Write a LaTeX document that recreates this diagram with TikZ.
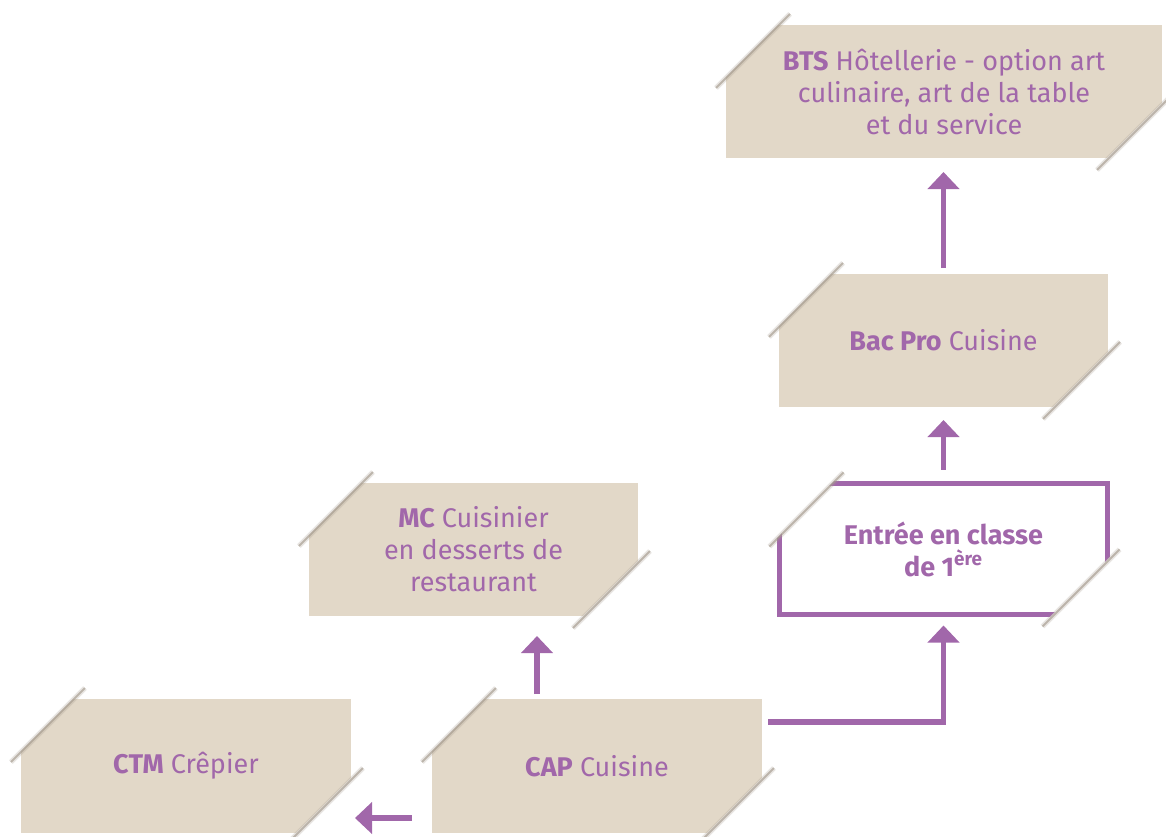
\documentclass[tikz,border=0pt]{standalone}
\usepackage{fontspec}
\setmainfont{Fira Sans}
\usetikzlibrary{arrows.meta,calc}
\definecolor{beige}{RGB}{226,216,200}
\definecolor{violet}{RGB}{161,103,170}
\definecolor{shade}{RGB}{165,155,142}
\begin{document}
\begin{tikzpicture}[x=0.5pt,y=-0.5pt,
  box/.style={fill=beige, text=violet, inner sep=0pt, outer sep=0pt, align=center,
    font=\fontsize{13.5}{16}\selectfont},
  outlinebox/.style={box, fill=white, draw=violet, line width=2.5pt, font=\fontsize{13.5}{16}\selectfont\bfseries},
  arr/.style={draw=violet, line width=2.75pt, -{Triangle[length=8.5pt,width=15.5pt]}},
  shadowsoft/.style={draw=shade, line width=2.5pt, opacity=0.25},
  shadowline/.style={draw=shade, line width=1pt, opacity=0.65},
]
\useasboundingbox (0,0) rectangle (1166,836);

\node[box, minimum width=218pt, minimum height=66.5pt] (bts) at (944,91.5)
  {\textbf{BTS} Hôtellerie - option art\\culinaire, art de la table\\et du service};
\node[box, minimum width=164.5pt, minimum height=66.5pt] (bac) at (943.5,340.5)
  {\textbf{Bac Pro} Cuisine};
\node[outlinebox, minimum width=164pt, minimum height=65.5pt] (entree) at (943.5,549)
  {Entrée en classe\\de 1\textsuperscript{ère}};
\node[box, minimum width=164.5pt, minimum height=66.5pt] (mc) at (473.5,549.5)
  {\textbf{MC} Cuisinier\\en desserts de\\restaurant};
\node[box, minimum width=165pt, minimum height=67pt] (ctm) at (186,766)
  {\textbf{CTM} Crêpier};
\node[box, minimum width=165pt, minimum height=67pt] (cap) at (597,766)
  {\textbf{CAP} Cuisine};

\foreach \n in {bts,bac,entree,mc,ctm,cap}{
  \fill[white] ($(\n.north west)+(-16,68)$) -- ($(\n.north west)+(68,-16)$) -- ($(\n.north west)+(-16,-16)$) -- cycle;
  \fill[white] ($(\n.south east)+(16,-71)$) -- ($(\n.south east)+(-71,16)$) -- ($(\n.south east)+(16,16)$) -- cycle;
  \draw[shadowsoft] ($(\n.north west)+(-10,63)$) -- ($(\n.north west)+(64,-11)$);
  \draw[shadowline] ($(\n.north west)+(-10,63)$) -- ($(\n.north west)+(64,-11)$);
  \draw[shadowsoft] ($(\n.south east)+(12,-65)$) -- ($(\n.south east)+(-65,12)$);
  \draw[shadowline] ($(\n.south east)+(12,-65)$) -- ($(\n.south east)+(-65,12)$);
}

\draw[arr] ([yshift=3pt]bac.north) -- ([yshift=-7pt]bts.south -| bac.north);
\draw[arr] ([yshift=7pt]entree.north) -- ([yshift=-6.5pt]bac.south -| entree.north);
\draw[arr] ($(cap.east)+(6,-44)$) -| ($(entree.south)+(0,11)$);
\draw[arr] ($(cap.north)+(-60,-5)$) coordinate (c1) -- ($(mc.south -| c1)+(0,20)$);
\draw[arr] ($(cap.west)+(-20,52)$) -- ($(ctm.east)+(4,52)$);
\end{tikzpicture}
\end{document}
